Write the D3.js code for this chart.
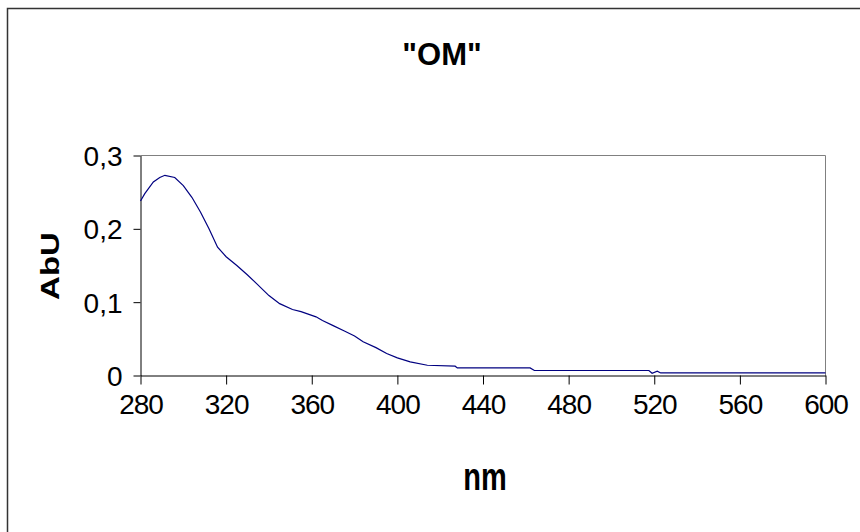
<!DOCTYPE html>
<html>
<head>
<meta charset="utf-8">
<script src="https://cdn.jsdelivr.net/npm/d3@7"></script>
<style>
  body { margin: 0; background: #fff; }
  text { font-family: "Liberation Sans", Arial, sans-serif; }
</style>
</head>
<body>
<svg id="chart" width="860" height="532"></svg>
<script>
// absorbance
const wavelengths = [280, 282, 286, 289, 291.4, 296, 300, 304, 308, 312, 316, 320, 325, 330, 334, 340, 345, 351,
  355, 358, 362, 365, 370, 375, 380, 384, 390, 395, 400, 406, 414, 427, 428, 448, 462, 464, 517.5, 519, 521.4, 523, 600]
const absorbance = [0.238, 0.248, 0.264, 0.270, 0.273, 0.270, 0.259, 0.243, 0.223, 0.200, 0.175, 0.162, 0.150, 0.137, 0.126, 0.109, 0.098, 0.090,
  0.087, 0.084, 0.080, 0.075, 0.068, 0.061, 0.054, 0.046, 0.038, 0.030, 0.024, 0.0185, 0.014, 0.0127, 0.0104, 0.0104, 0.0104, 0.0068, 0.0068, 0.003, 0.006, 0.0035, 0.0035]
const xTicks = [280, 320, 360, 400, 440, 480, 520, 560, 600]
const yTicks = [0, 0.1, 0.2, 0.3]

const svg = d3.select('#chart')

// outer chart frame (runs off the right and bottom edge)
svg.append('rect')
  .attr('x', 7.5).attr('y', 8.5)
  .attr('width', 870).attr('height', 540)
  .attr('fill', 'none').attr('stroke', '#333').attr('stroke-width', 1.5)

const x = d3.scaleLinear().domain([280, 600]).range([140.5, 825.5])
const y = d3.scaleLinear().domain([0, 0.3]).range([375.5, 155.5])

// plot area border, grey top and right
svg.append('path')
  .attr('d', `M${x(280)},${y(0.3)}H${x(600)}V${y(0)}`)
  .attr('fill', 'none').attr('stroke', '#808080')

const xAxis = svg.append('g')
  .attr('transform', `translate(0,${y(0)})`)
  .call(d3.axisBottom(x).tickValues(xTicks).tickSize(9).tickSizeOuter(0).tickFormat(d3.format('d')))
xAxis.select('.domain').attr('stroke', '#000')
xAxis.selectAll('text')
  .attr('font-size', 28).attr('fill', '#000').attr('dy', 0).attr('y', 38)
  .attr('letter-spacing', -1)

const yAxis = svg.append('g')
  .attr('transform', `translate(${x(280)},0)`)
  .call(d3.axisLeft(y).tickValues(yTicks).tickSize(7).tickSizeOuter(0).tickFormat(d => d === 0 ? '0' : d3.format('.1f')(d).replace('.', ',')))
yAxis.select('.domain').attr('stroke', '#000')
yAxis.selectAll('text')
  .attr('font-size', 28).attr('fill', '#000').attr('x', -18).attr('dy', '0.36em')

const pts = wavelengths.map((w, i) => [w, absorbance[i]])
svg.append('path')
  .datum(pts)
  .attr('fill', 'none')
  .attr('stroke', '#000080')
  .attr('stroke-width', 1.2)
  .attr('d', d3.line().x(d => x(d[0])).y(d => y(d[1])))

svg.append('text')
  .attr('x', 442).attr('y', 65)
  .attr('text-anchor', 'middle')
  .attr('font-size', 31).attr('font-weight', 'bold')
  .text('"OM"')

// the labels in the picture are drawn taller than the font
svg.append('text')
  .attr('transform', 'translate(59,266) rotate(-90) scale(1.32,1)')
  .attr('text-anchor', 'middle')
  .attr('font-size', 25).attr('font-weight', 'bold')
  .text('AbU')

svg.append('text')
  .attr('transform', 'translate(485,490) scale(1,1.34)')
  .attr('text-anchor', 'middle')
  .attr('font-size', 29).attr('font-weight', 'bold')
  .text('nm')
</script>
</body>
</html>
